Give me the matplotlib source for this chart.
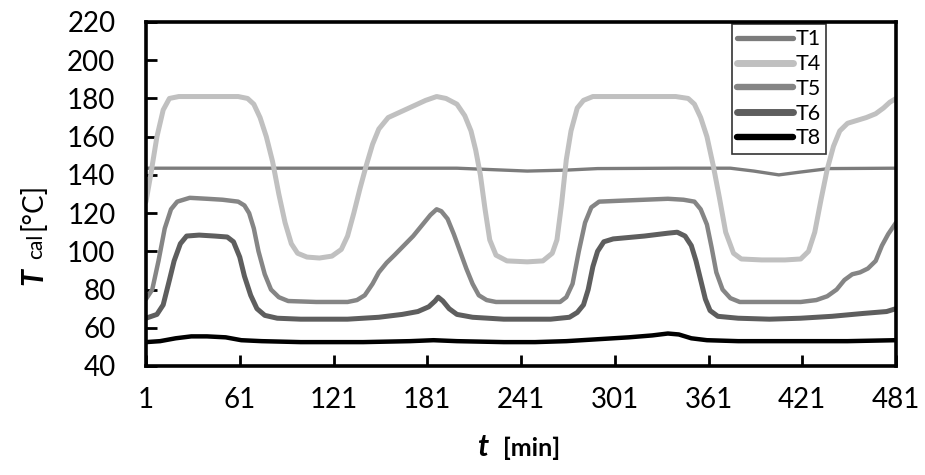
import matplotlib
matplotlib.use("Agg")
import matplotlib.pyplot as plt
from matplotlib.lines import Line2D

plt.rcParams['font.family'] = ['Lato', 'DejaVu Sans']

# ---- data: time [min] and calorimeter temperatures [°C] ----
t1_t = [1, 60, 120, 200, 230, 245, 270, 290, 340, 375, 390, 406, 420, 438, 481]
t1_v = [143.5, 143.5, 143.5, 143.5, 142.5, 142, 142.5, 143.3, 143.5, 143.5, 142, 140, 141.5, 143.3, 143.5]

t4_t = [1, 4, 8, 12, 16, 22, 40, 60, 66, 70, 74, 78, 82, 86, 90, 94, 98, 104, 112, 120,
        126, 130, 134, 138, 142, 146, 150, 156, 164, 172, 180, 187, 193, 200, 205, 209,
        212, 215, 218, 221, 225, 232, 245, 255, 261, 264, 267, 270, 273, 277, 281, 287,
        300, 320, 340, 348, 352, 356, 360, 364, 368, 372, 377, 382, 395, 410, 420, 425,
        429, 433, 437, 441, 445, 450, 456, 462, 468, 473, 477, 481]
t4_v = [126, 140, 160, 174, 180, 181, 181, 181, 180, 177, 170, 160, 147, 130, 115, 104, 99, 97, 96.5, 97.5,
        101, 108, 120, 133, 145, 156, 164, 170, 173, 176, 179, 181, 180, 177, 171, 163,
        153, 140, 122, 106, 98, 95, 94.5, 95, 99, 106, 125, 148, 163, 175, 179, 181,
        181, 181, 181, 180, 177, 170, 160, 145, 128, 110, 99, 96, 95.5, 95.5, 96, 100,
        110, 127, 143, 155, 163, 167, 168.5, 170, 172, 175, 178, 180]

t5_t = [1, 5, 9, 13, 17, 21, 29, 40, 50, 60, 64, 67, 70, 73, 77, 81, 86, 92, 110, 130,
        136, 141, 146, 150, 155, 160, 166, 172, 178, 183, 187, 190, 194, 198, 202, 206,
        210, 214, 219, 225, 250, 266, 270, 274, 278, 282, 286, 291, 305, 320, 335, 345,
        352, 356, 360, 363, 366, 370, 375, 381, 400, 420, 430, 437, 443, 448, 453, 458,
        463, 468, 472, 476, 481]
t5_v = [75, 80, 95, 112, 122, 126, 128, 127.5, 127, 126, 124, 120, 112, 100, 88, 80, 76, 74, 73.5, 73.5,
        74.5, 77, 83, 89, 94, 98, 103, 108, 114, 119, 122, 121, 117, 109, 100, 91,
        83, 77, 74.5, 73.5, 73.5, 73.5, 76, 83, 100, 115, 123, 126, 126.5, 127, 127.5, 127,
        126, 122, 114, 102, 89, 80, 75.5, 73.5, 73.5, 73.5, 74.5, 76.5, 80, 85, 88, 89,
        91, 95, 103, 109, 115]

t6_t = [1, 8, 12, 16, 19, 23, 27, 35, 45, 53, 57, 61, 64, 68, 72, 77, 85, 100, 130, 150,
        165, 175, 182, 186, 188, 191, 195, 200, 210, 230, 260, 272, 277, 281, 284, 287,
        290, 294, 300, 320, 335, 341, 346, 350, 353, 356, 359, 362, 367, 380, 400, 420,
        440, 460, 475, 481]
t6_v = [65, 67, 72, 85, 95, 104, 108, 108.5, 108, 107.5, 105, 97, 87, 77, 70, 66.5, 65, 64.5, 64.5, 65.5,
        67, 68.5, 71, 74, 76, 74, 70, 67, 65.5, 64.5, 64.5, 65.5, 68, 72, 80, 92,
        100, 105, 106.5, 108, 109.5, 110, 108, 103, 95, 85, 75, 69, 66, 65, 64.5, 65,
        66, 67.5, 68.5, 70]

t8_t = [1, 10, 20, 30, 40, 52, 62, 75, 100, 140, 170, 185, 200, 230, 250, 270, 290, 310,
        325, 335, 342, 350, 360, 380, 420, 450, 481]
t8_v = [52.5, 53, 54.5, 55.5, 55.5, 55, 53.5, 53, 52.5, 52.5, 53, 53.5, 53, 52.5, 52.5, 53, 54, 55,
        56, 57, 56.5, 54.5, 53.5, 53, 53, 53, 53.5]

x_ticks = [1, 61, 121, 181, 241, 301, 361, 421, 481]
y_ticks = [40, 60, 80, 100, 120, 140, 160, 180, 200, 220]

series = [
    ("T1", t1_t, t1_v, "#7c7c7c", 2.4),
    ("T4", t4_t, t4_v, "#c0c0c0", 3.6),
    ("T5", t5_t, t5_v, "#858585", 3.2),
    ("T6", t6_t, t6_v, "#5e5e5e", 3.6),
    ("T8", t8_t, t8_v, "#000000", 3.2),
]

W, H = 925, 475
fig = plt.figure(figsize=(W / 100, H / 100), dpi=100)
ax = fig.add_axes([146 / W, 1 - 366 / H, 750 / W, 344 / H])

for name, xs, ys, col, lw in series:
    ax.plot(xs, ys, color=col, lw=lw, solid_joinstyle="round", solid_capstyle="round", label=name)

ax.set_xlim(1, 481)
ax.set_ylim(40, 220)
ax.set_xticks(x_ticks)
ax.set_yticks(y_ticks)
ax.set_xticklabels([str(v) for v in x_ticks])
ax.set_yticklabels([str(v) for v in y_ticks])
ax.tick_params(axis="both", direction="in", length=8, width=2, labelsize=20, color="black")
ax.tick_params(axis="y", pad=22)
ax.tick_params(axis="x", pad=15)
for sp in ax.spines.values():
    sp.set_linewidth(2.6)
    sp.set_color("black")

handles = [Line2D([0], [0], color=c, lw=lw + 1.4, solid_capstyle="round") for _, _, _, c, lw in series]
leg = ax.legend(handles, [s[0] for s in series], loc="upper left",
                bbox_to_anchor=(0.781, 0.994), fontsize=15.5, frameon=True, fancybox=False,
                handlelength=2.6, handletextpad=0.1, labelspacing=0.22,
                borderpad=0.25, borderaxespad=0.0)
leg.get_frame().set_edgecolor("black")
leg.get_frame().set_linewidth(1.2)

# y-axis label: italic bold T with "cal" and unit, rotated
kw = dict(rotation=90, rotation_mode="anchor", ha="left", va="baseline")
fig.text(42 / W, 1 - 285 / H, "T", fontsize=22, fontweight="bold", fontstyle="italic", **kw)
fig.text(42 / W, 1 - 259 / H, "cal", fontsize=15, **kw)
fig.text(42 / W, 1 - 230 / H, "[°C]", fontsize=20, **kw)

# x-axis label
fig.text(477 / W, 1 - 456 / H, "t", fontsize=22, fontweight="bold", fontstyle="italic",
         ha="left", va="baseline")
fig.text(503 / W, 1 - 456 / H, "[min]", fontsize=18, fontweight="bold",
         ha="left", va="baseline")

fig.savefig("out.png", dpi=100)
